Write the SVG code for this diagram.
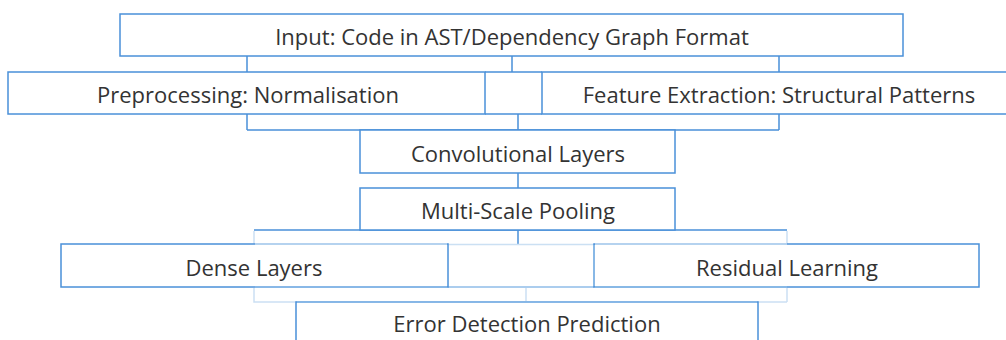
<svg xmlns="http://www.w3.org/2000/svg" width="1006" height="340" viewBox="0 0 1006 340">
<style>
.box{fill:#fff;stroke:#4a90d9;stroke-width:1.5}
.lbl{font-family:"Open Sans","Noto Sans",sans-serif;font-size:22px;fill:#333;text-anchor:middle}
.c{stroke:#4a90d9;stroke-width:1.5;fill:none}
.lt{stroke:#cbe0f3;stroke-width:1.5;fill:none}
.md{stroke:#8fbde8;stroke-width:1.5;fill:none}
</style>
<rect width="1006" height="340" fill="#fff"/>
<g id="connectors">
<path class="c" d="M247,56V72M512,56V72M779,56V72M485,72H542"/>
<path class="c" d="M247,114V130M518,114V130M779,114V130M247,130H779M485,114H542"/>
<path class="c" d="M518,173V188"/>
<path class="c" d="M254,230H787M518,230V244"/>
<path class="lt" d="M254,231V244M787,231V244M254,244.5H787"/>
<path class="lt" d="M254,288V302H787M787,288V302M526,288V302"/>
<path class="md" d="M448,287H594"/>
</g>
<g id="input"><rect class="box" x="120" y="14" width="783" height="42"/><text class="lbl" x="512" y="45">Input: Code in AST/Dependency Graph Format</text></g>
<g id="preprocessing"><rect class="box" x="8" y="72" width="477" height="42"/><text class="lbl" x="248" y="103">Preprocessing: Normalisation</text></g>
<g id="feature"><rect class="box" x="542" y="72" width="477" height="42"/><text class="lbl" x="779" y="103">Feature Extraction: Structural Patterns</text></g>
<g id="conv"><rect class="box" x="360" y="130" width="315" height="43"/><text class="lbl" x="518" y="162">Convolutional Layers</text></g>
<g id="pooling"><rect class="box" x="360" y="188" width="315" height="42"/><text class="lbl" x="518" y="219">Multi-Scale Pooling</text></g>
<g id="dense"><rect class="box" x="61" y="244" width="387" height="43"/><path class="lt" d="M255,244H447"/><path class="md" d="M255,287H447"/><text class="lbl" x="254" y="276">Dense Layers</text></g>
<g id="residual"><rect class="box" x="594" y="244" width="385" height="43"/><path class="lt" d="M595,244H787"/><path class="md" d="M595,287H787M594,245V286"/><text class="lbl" x="787" y="276">Residual Learning</text></g>
<g id="error"><rect class="box" x="296" y="302" width="462" height="50"/><path class="md" d="M297,302H757"/><text class="lbl" x="527" y="332">Error Detection Prediction</text></g>
</svg>
